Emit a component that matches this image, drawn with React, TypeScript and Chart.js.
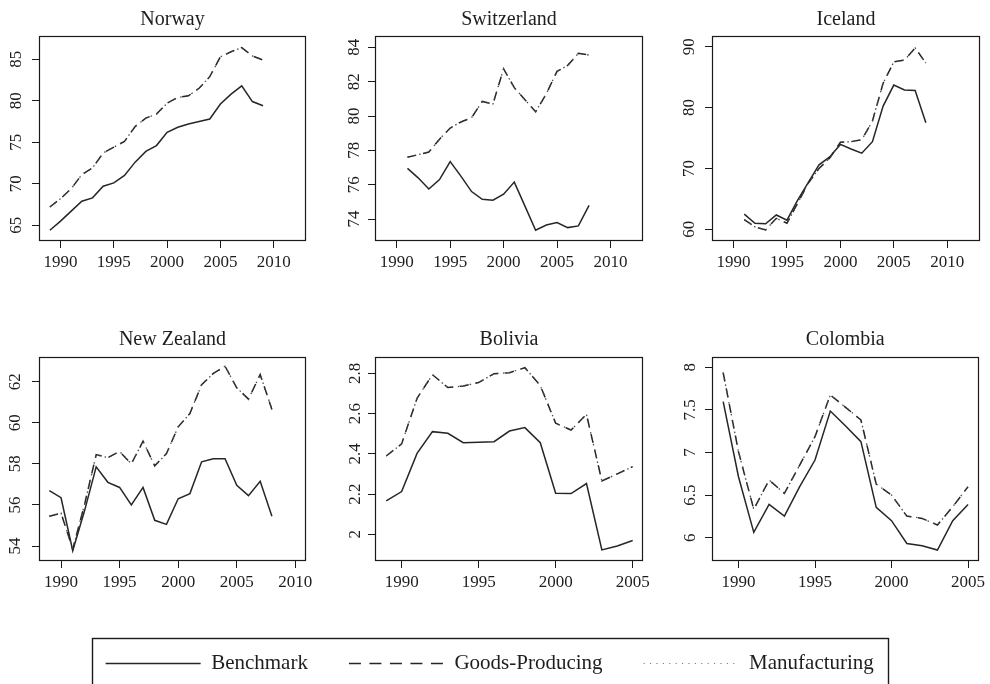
import React, { useEffect, useRef } from "react";
import { Chart, registerables } from "chart.js";

Chart.register(...registerables);

// ---------------- DATA ----------------
const norwayYears = [1989, 1990, 1991, 1992, 1993, 1994, 1995, 1996, 1997, 1998, 1999, 2000, 2001, 2002, 2003, 2004, 2005, 2006, 2007, 2008, 2009];
const norwayBenchmark = [64.4, 65.5, 66.7, 67.9, 68.3, 69.7, 70.1, 71.0, 72.6, 73.9, 74.6, 76.2, 76.8, 77.2, 77.5, 77.8, 79.6, 80.8, 81.8, 79.9, 79.4];
const norwayGoods = [67.2, 68.2, 69.4, 71.1, 71.9, 73.7, 74.4, 75.1, 76.9, 77.9, 78.4, 79.7, 80.4, 80.6, 81.5, 82.9, 85.3, 85.9, 86.4, 85.4, 84.9];
const norwayManufacturing = [67.2, 68.2, 69.4, 71.1, 71.9, 73.7, 74.4, 75.1, 76.9, 77.9, 78.4, 79.7, 80.4, 80.6, 81.5, 82.9, 85.3, 85.9, 86.4, 85.4, 84.9];

const switzerlandYears = [1991, 1992, 1993, 1994, 1995, 1996, 1997, 1998, 1999, 2000, 2001, 2002, 2003, 2004, 2005, 2006, 2007, 2008];
const switzerlandBenchmark = [76.95, 76.4, 75.75, 76.3, 77.35, 76.5, 75.6, 75.15, 75.1, 75.45, 76.15, 74.75, 73.35, 73.65, 73.8, 73.5, 73.6, 74.8];
const switzerlandGoods = [77.6, 77.75, 77.9, 78.65, 79.3, 79.65, 79.9, 80.85, 80.7, 82.75, 81.65, 80.95, 80.25, 81.3, 82.6, 82.95, 83.65, 83.55];
const switzerlandManufacturing = [77.6, 77.75, 77.9, 78.65, 79.3, 79.65, 79.9, 80.85, 80.7, 82.75, 81.65, 80.95, 80.25, 81.3, 82.6, 82.95, 83.65, 83.55];

const icelandYears = [1991, 1992, 1993, 1994, 1995, 1996, 1997, 1998, 1999, 2000, 2001, 2002, 2003, 2004, 2005, 2006, 2007, 2008];
const icelandBenchmark = [62.5, 61.0, 60.9, 62.35, 61.5, 64.8, 67.7, 70.6, 71.9, 73.95, 73.2, 72.5, 74.4, 80.25, 83.7, 82.9, 82.8, 77.5];
const icelandGoods = [61.6, 60.4, 59.9, 61.8, 61.0, 64.3, 67.6, 70.0, 71.7, 74.3, 74.4, 74.7, 77.8, 84.0, 87.5, 87.8, 89.8, 87.3];
const icelandManufacturing = [61.6, 60.4, 59.9, 61.8, 61.0, 64.3, 67.6, 70.0, 71.7, 74.3, 74.4, 74.7, 77.8, 84.0, 87.5, 87.8, 89.8, 87.3];

const newZealandYears = [1989, 1990, 1991, 1992, 1993, 1994, 1995, 1996, 1997, 1998, 1999, 2000, 2001, 2002, 2003, 2004, 2005, 2006, 2007, 2008];
const newZealandBenchmark = [56.7, 56.35, 53.77, 55.7, 57.85, 57.1, 56.85, 56.0, 56.85, 55.25, 55.05, 56.3, 56.55, 58.1, 58.25, 58.25, 56.95, 56.45, 57.15, 55.45];
const newZealandGoods = [55.45, 55.6, 53.85, 56.0, 58.45, 58.3, 58.6, 58.0, 59.1, 57.9, 58.5, 59.8, 60.45, 61.85, 62.4, 62.75, 61.7, 61.15, 62.35, 60.65];
const newZealandManufacturing = [55.45, 55.6, 53.85, 56.0, 58.45, 58.3, 58.6, 58.0, 59.1, 57.9, 58.5, 59.8, 60.45, 61.85, 62.4, 62.75, 61.7, 61.15, 62.35, 60.65];

const boliviaYears = [1989, 1990, 1991, 1992, 1993, 1994, 1995, 1996, 1997, 1998, 1999, 2000, 2001, 2002, 2003, 2004, 2005];
const boliviaBenchmark = [2.166, 2.212, 2.402, 2.51, 2.502, 2.455, 2.457, 2.46, 2.513, 2.53, 2.455, 2.204, 2.202, 2.252, 1.922, 1.942, 1.969];
const boliviaGoods = [2.389, 2.449, 2.676, 2.793, 2.729, 2.737, 2.754, 2.798, 2.803, 2.828, 2.739, 2.552, 2.518, 2.596, 2.265, 2.3, 2.336];
const boliviaManufacturing = [2.389, 2.449, 2.676, 2.793, 2.729, 2.737, 2.754, 2.798, 2.803, 2.828, 2.739, 2.552, 2.518, 2.596, 2.265, 2.3, 2.336];

const colombiaYears = [1989, 1990, 1991, 1992, 1993, 1994, 1995, 1996, 1997, 1998, 1999, 2000, 2001, 2002, 2003, 2004, 2005];
const colombiaBenchmark = [7.597, 6.716, 6.063, 6.391, 6.254, 6.599, 6.912, 7.487, 7.311, 7.127, 6.356, 6.2, 5.933, 5.906, 5.855, 6.2, 6.391];
const colombiaGoods = [7.937, 7.01, 6.333, 6.677, 6.52, 6.853, 7.186, 7.675, 7.53, 7.382, 6.63, 6.501, 6.254, 6.227, 6.149, 6.364, 6.599];
const colombiaManufacturing = [7.937, 7.01, 6.333, 6.677, 6.52, 6.853, 7.186, 7.675, 7.53, 7.382, 6.63, 6.501, 6.254, 6.227, 6.149, 6.364, 6.599];

const seriesLabels = ["Benchmark", "Goods-Producing", "Manufacturing"];

// ---------------- STYLE / LAYOUT ----------------
const FONT = "'Liberation Serif', 'Times New Roman', serif";
const INK = "#1e1e1e";
const LINE = "#262626";
const DOT = "#4a4a4a";
const DASH_GOODS = [9, 7];
const DASH_MANUF = [1.5, 4.5];

type PanelSpec = {
  title: string;
  years: number[];
  benchmark: number[];
  goods: number[];
  manufacturing: number[];
  xMin: number;
  xMax: number;
  yMin: number;
  yMax: number;
  yStep: number;
  cx: number;
  cy: number;
  cw: number;
  ch: number;
  yAxisW: number;
  padRight: number;
  titleTop: number;
  titleBottom: number;
  xAxisH: number;
  yTickPad: number;
};

const TOP = { cy: 0, ch: 286, titleTop: 8, titleBottom: 4, xAxisH: 45 };
const BOT = { cy: 300, ch: 306, titleTop: 28, titleBottom: 5, xAxisH: 45 };

const panels: PanelSpec[] = [
  {
    title: "Norway", years: norwayYears, benchmark: norwayBenchmark, goods: norwayGoods, manufacturing: norwayManufacturing,
    xMin: 1987.98, xMax: 2013.03, yMin: 63.1, yMax: 87.8, yStep: 5,
    cx: 0, cw: 330, yAxisW: 39, padRight: 24, yTickPad: 6.8, ...TOP,
  },
  {
    title: "Switzerland", years: switzerlandYears, benchmark: switzerlandBenchmark, goods: switzerlandGoods, manufacturing: switzerlandManufacturing,
    xMin: 1987.96, xMax: 2013.05, yMin: 72.72, yMax: 84.66, yStep: 2,
    cx: 330, cw: 330, yAxisW: 45, padRight: 17, yTickPad: 4.5, ...TOP,
  },
  {
    title: "Iceland", years: icelandYears, benchmark: icelandBenchmark, goods: icelandGoods, manufacturing: icelandManufacturing,
    xMin: 1987.98, xMax: 2013.07, yMin: 58.08, yMax: 91.76, yStep: 10,
    cx: 660, cw: 330, yAxisW: 52, padRight: 10, yTickPad: 6.5, ...TOP,
  },
  {
    title: "New Zealand", years: newZealandYears, benchmark: newZealandBenchmark, goods: newZealandGoods, manufacturing: newZealandManufacturing,
    xMin: 1988.12, xMax: 2010.91, yMin: 53.27, yMax: 63.2, yStep: 2,
    cx: 0, cw: 330, yAxisW: 39, padRight: 24, yTickPad: 7.5, ...BOT,
  },
  {
    title: "Bolivia", years: boliviaYears, benchmark: boliviaBenchmark, goods: boliviaGoods, manufacturing: boliviaManufacturing,
    xMin: 1988.27, xMax: 2005.67, yMin: 1.867, yMax: 2.881, yStep: 0.2,
    cx: 330, cw: 330, yAxisW: 45, padRight: 17, yTickPad: 2, ...BOT,
  },
  {
    title: "Colombia", years: colombiaYears, benchmark: colombiaBenchmark, goods: colombiaGoods, manufacturing: colombiaManufacturing,
    xMin: 1988.27, xMax: 2005.69, yMin: 5.727, yMax: 8.121, yStep: 0.5,
    cx: 660, cw: 330, yAxisW: 52, padRight: 10, yTickPad: 4.1, ...BOT,
  },
];

const framePlugin = {
  id: "plotFrame",
  afterDatasetsDraw(chart: any) {
    const { ctx, chartArea } = chart;
    const l = Math.round(chartArea.left) + 0.5;
    const t = Math.round(chartArea.top) + 0.5;
    const r = Math.round(chartArea.right) - 0.5;
    const b = Math.round(chartArea.bottom) - 0.5;
    ctx.save();
    ctx.strokeStyle = "#1a1a1a";
    ctx.lineWidth = 1.2;
    ctx.strokeRect(l, t, r - l, b - t);
    ctx.restore();
  },
};

function toPoints(xs: number[], ys: number[]) {
  return xs.map((x, i) => ({ x, y: ys[i] }));
}

function Panel({ spec }: { spec: PanelSpec }) {
  const ref = useRef<HTMLCanvasElement>(null);
  useEffect(() => {
    const canvas = ref.current;
    if (!canvas) return;
    const chart = new Chart(canvas, {
      type: "line",
      data: {
        datasets: [
          {
            label: seriesLabels[2],
            data: toPoints(spec.years, spec.manufacturing),
            borderColor: DOT,
            borderWidth: 1.3,
            borderDash: DASH_MANUF,
            pointRadius: 0,
            tension: 0,
            fill: false,
          },
          {
            label: seriesLabels[1],
            data: toPoints(spec.years, spec.goods),
            borderColor: LINE,
            borderWidth: 1.5,
            borderDash: DASH_GOODS,
            pointRadius: 0,
            tension: 0,
            fill: false,
          },
          {
            label: seriesLabels[0],
            data: toPoints(spec.years, spec.benchmark),
            borderColor: LINE,
            borderWidth: 1.5,
            pointRadius: 0,
            tension: 0,
            fill: false,
          },
        ],
      },
      options: {
        responsive: false,
        animation: false,
        events: [],
        layout: { padding: { left: 0, right: spec.padRight, top: 0, bottom: 0 } },
        plugins: {
          legend: { display: false },
          tooltip: { enabled: false },
          title: {
            display: true,
            text: spec.title,
            fullSize: false,
            color: INK,
            font: { family: FONT, size: 20, weight: "normal", lineHeight: 1.2 },
            padding: { top: spec.titleTop, bottom: spec.titleBottom },
          },
        },
        scales: {
          x: {
            type: "linear",
            min: spec.xMin,
            max: spec.xMax,
            border: { display: false },
            grid: { drawOnChartArea: false, drawTicks: true, tickLength: 7, color: "#1a1a1a", lineWidth: 1 },
            ticks: {
              stepSize: 5,
              includeBounds: false,
              autoSkip: false,
              maxRotation: 0,
              minRotation: 0,
              padding: 4.5,
              color: INK,
              font: { family: FONT, size: 17 },
              callback: (v: any) => String(v),
            },
            afterFit: (scale: any) => {
              scale.height = spec.xAxisH;
            },
          },
          y: {
            type: "linear",
            min: spec.yMin,
            max: spec.yMax,
            border: { display: false },
            grid: { drawOnChartArea: false, drawTicks: true, tickLength: 7, color: "#1a1a1a", lineWidth: 1 },
            ticks: {
              stepSize: spec.yStep,
              includeBounds: false,
              autoSkip: false,
              minRotation: 90,
              maxRotation: 90,
              crossAlign: "center",
              padding: spec.yTickPad,
              color: INK,
              font: { family: FONT, size: 17 },
              callback: (v: any) => String(v),
            },
            afterFit: (scale: any) => {
              scale.width = spec.yAxisW;
            },
          },
        },
      },
      plugins: [framePlugin],
    } as any);
    return () => chart.destroy();
  }, [spec]);
  return (
    <canvas
      ref={ref}
      width={spec.cw}
      height={spec.ch}
      style={{ position: "absolute", left: spec.cx, top: spec.cy, width: spec.cw, height: spec.ch }}
    />
  );
}

const legendFramePlugin = {
  id: "legendFrame",
  afterDraw(chart: any) {
    const legend = chart.legend;
    if (!legend || !legend.legendHitBoxes || !legend.legendHitBoxes.length) return;
    const hb = legend.legendHitBoxes;
    const first = hb[0];
    const last = hb[hb.length - 1];
    const l = Math.round(first.left - 14) + 0.5;
    const r = Math.round(last.left + last.width + 14) + 0.5;
    const t = Math.round(first.top - 15) + 0.5;
    const { ctx } = chart;
    ctx.save();
    ctx.strokeStyle = "#1a1a1a";
    ctx.lineWidth = 1.4;
    ctx.strokeRect(l, t, r - l, 120);
    ctx.restore();
  },
};

const LEGEND_CANVAS_H = 230;

function LegendStrip() {
  const ref = useRef<HTMLCanvasElement>(null);
  useEffect(() => {
    const canvas = ref.current;
    if (!canvas) return;
    const chart = new Chart(canvas, {
      type: "line",
      data: {
        datasets: [
          { label: seriesLabels[0], data: [], borderColor: LINE, borderWidth: 1.6, borderDash: [] },
          { label: seriesLabels[1], data: [], borderColor: LINE, borderWidth: 1.6, borderDash: [12, 8.5] },
          { label: seriesLabels[2], data: [], borderColor: "#808080", borderWidth: 1.2, borderDash: [1.2, 5.2] },
        ],
      },
      options: {
        responsive: false,
        animation: false,
        events: [],
        layout: { padding: { left: 0, right: 10.5, top: 0, bottom: 0 } },
        scales: { x: { display: false }, y: { display: false } },
        plugins: {
          tooltip: { enabled: false },
          title: { display: false },
          legend: {
            display: true,
            position: "top",
            align: "center",
            labels: {
              usePointStyle: true,
              pointStyle: "line",
              pointStyleWidth: 95,
              padding: 41,
              color: INK,
              font: { family: FONT, size: 21 },
              generateLabels: (chart: any) => {
                const base = (Chart as any).defaults.plugins.legend.labels.generateLabels(chart);
                return base.map((item: any) => {
                  const ds = chart.data.datasets[item.datasetIndex];
                  return {
                    ...item,
                    pointStyle: "line",
                    lineDash: ds.borderDash || [],
                    strokeStyle: ds.borderColor,
                    lineWidth: ds.borderWidth,
                    fontColor: INK,
                  };
                });
              },
            },
          },
        },
      },
      plugins: [legendFramePlugin],
    } as any);
    return () => chart.destroy();
  }, []);
  return (
    <canvas
      ref={ref}
      width={990}
      height={LEGEND_CANVAS_H}
      style={{ position: "absolute", left: 0, top: 612, width: 990, height: LEGEND_CANVAS_H }}
    />
  );
}

export default function App() {
  return (
    <div
      style={{
        position: "absolute",
        left: 0,
        top: 0,
        width: 990,
        height: 684,
        background: "#ffffff",
        overflow: "hidden",
      }}
    >
      {panels.map((p) => (
        <Panel key={p.title} spec={p} />
      ))}
      <LegendStrip />
    </div>
  );
}
